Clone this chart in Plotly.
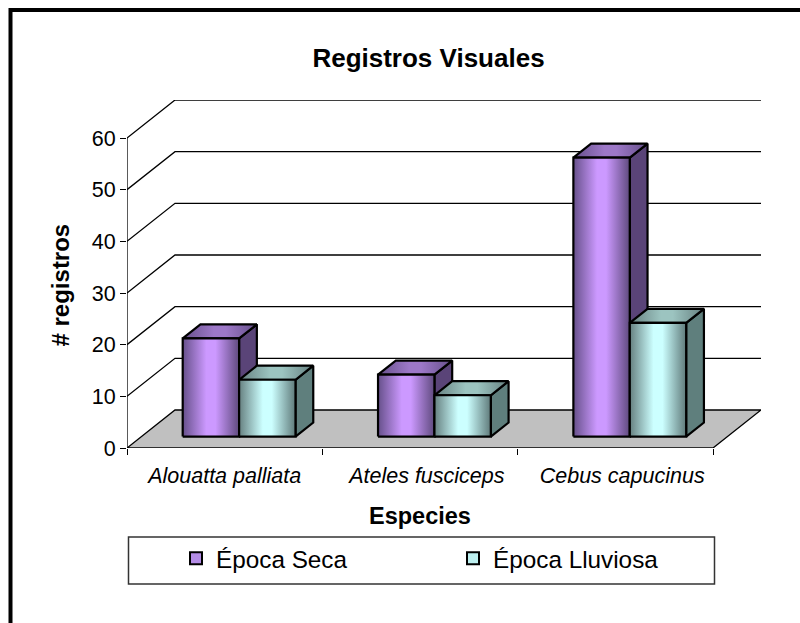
import plotly.graph_objects as go

categories = ["Alouatta palliata", "Ateles fusciceps", "Cebus capucinus"]
epoca_seca = [19, 12, 54]
epoca_lluviosa = [11, 8, 22]
y_ticks = [0, 10, 20, 30, 40, 50, 60]
category_label_positions = [0.5, 1.535, 2.535]
series_names = ["Época Seca", "Época Lluviosa"]

W, H = 800, 623
MARGIN_B = 30
PLOT_H = H - MARGIN_B
PX_LEFT, PX_RIGHT, PX_FLOOR = 127.0, 713.0, 448.0
PX_PER_CAT = (PX_RIGHT - PX_LEFT) / 3
PX_PER_UNIT = 310.0 / 60
DEPTH_X = 48.0 / PX_PER_CAT       # wall depth, in category units
DEPTH_Y = 38.0 / PX_PER_UNIT      # wall depth, in value units
GAP = 41.3 / PX_PER_CAT
BAR_W = 56.4 / PX_PER_CAT
D0, D1 = 0.30, 0.67               # depth slice occupied by the bars

X_MAX = 3 + DEPTH_X
Y_MAX = 60 + DEPTH_Y


def py(px):
    """Paper fraction for a pixel row counted from the top of the page."""
    return 1 - px / PLOT_H


def proj(x, y, d):
    return x + d * DEPTH_X, y + d * DEPTH_Y


def poly(points, fill=None, gradient=None, closed=True, width=2.2):
    pts = [proj(*p) for p in points]
    if closed:
        pts.append(pts[0])
    kw = dict(
        x=[p[0] for p in pts], y=[p[1] for p in pts], mode="lines",
        line=dict(color="black", width=width), showlegend=False, hoverinfo="skip",
    )
    if fill is not None:
        kw.update(fill="toself", fillcolor=fill)
    if gradient is not None:
        kw.update(fill="toself", fillgradient=dict(type="horizontal", colorscale=gradient))
    return go.Scatter(**kw)


def plateau(edge_l, mid, edge_r):
    return [[0, edge_l], [0.42, mid], [0.58, mid], [1, edge_r]]


STYLES = [
    dict(front=plateau("#66508a", "#cc99ff", "#5f4a7e"),
         top=plateau("#66508a", "#9d78c8", "#66508a"),
         side="#5a4478", swatch="#b48ce6"),
    dict(front=plateau("#668080", "#ccffff", "#5f7a7a"),
         top=plateau("#668080", "#9cc4c0", "#668080"),
         side="#5f7f7d", swatch="#bdf0f0"),
]

fig = go.Figure()

# walls: grid lines on the back and left walls
for v in y_ticks[1:]:
    fig.add_trace(poly([(0, v, 0), (0, v, 1), (3, v, 1)], closed=False, width=1.3))

# floor
fig.add_trace(poly([(0, 0, 0), (3, 0, 0), (3, 0, 1), (0, 0, 1)], fill="#c0c0c0", width=1.3))
# value axis line
fig.add_trace(poly([(0, 0, 0), (0, 60, 0)], closed=False, width=1.3))

# bars
for i in range(len(categories)):
    for s, values in enumerate([epoca_seca, epoca_lluviosa]):
        v = values[i]
        st = STYLES[s]
        x0 = i + GAP + s * BAR_W
        x1 = x0 + BAR_W
        fig.add_trace(poly([(x1, 0, D0), (x1, 0, D1), (x1, v, D1), (x1, v, D0)], fill=st["side"]))
        fig.add_trace(poly([(x0, v, D0), (x1, v, D0), (x1, v, D1), (x0, v, D1)], gradient=st["top"]))
        fig.add_trace(poly([(x0, 0, D0), (x1, 0, D0), (x1, v, D0), (x0, v, D0)], gradient=st["front"]))

# legend entries
for s, name in enumerate(series_names):
    fig.add_trace(go.Scatter(
        x=[None], y=[None], mode="markers", name=name,
        marker=dict(symbol="square", size=13.5, color=STYLES[s]["swatch"],
                    line=dict(color="black", width=1.6)),
    ))

x_dom = [PX_LEFT / W, (PX_LEFT + X_MAX * PX_PER_CAT) / W]
y_dom = [py(PX_FLOOR), py(PX_FLOOR - Y_MAX * PX_PER_UNIT)]

FONT = "Liberation Sans, Arial, sans-serif"
fig.update_layout(
    width=W, height=H, autosize=False,
    margin=dict(l=0, r=0, t=0, b=MARGIN_B),
    paper_bgcolor="white", plot_bgcolor="rgba(0,0,0,0)",
    font=dict(family=FONT, color="black", size=21),
    title=dict(text="<b>Registros Visuales</b>", x=428.5 / W, xanchor="center",
               y=1 - 58 / H, yanchor="middle", font=dict(size=26)),
    xaxis=dict(
        domain=x_dom, range=[0, X_MAX], showgrid=False, zeroline=False, showline=False,
        tickmode="array", tickvals=category_label_positions,
        ticktext=[f"<i>{c}</i>" for c in categories],
        ticks="outside", ticklen=0, ticklabelstandoff=8, tickfont=dict(size=21.5),
        minor=dict(tickmode="array", tickvals=[0, 1, 2, 3], ticks="outside", ticklen=6,
                   tickcolor="black", tickwidth=1, showgrid=False),
    ),
    yaxis=dict(
        domain=y_dom, range=[0, Y_MAX], showgrid=False, zeroline=False, showline=False,
        tickmode="array", tickvals=y_ticks, ticks="outside", ticklen=6, tickcolor="black",
        tickwidth=1, tickfont=dict(size=21.5),
    ),
    legend=dict(
        orientation="h",
        x=176 / W, xanchor="left", y=py(558.5), yanchor="middle",
        bgcolor="rgba(0,0,0,0)", borderwidth=0,
        font=dict(size=24.3), entrywidth=232, entrywidthmode="pixels", itemsizing="constant",
    ),
    annotations=[
        dict(text="<b>Especies</b>", x=420 / W, y=py(516), xref="paper", yref="paper",
             showarrow=False, font=dict(size=23.5), xanchor="center", yanchor="middle"),
        dict(text="<b># registros</b>", x=60 / W, y=py(285.5), xref="paper", yref="paper",
             showarrow=False, font=dict(size=24), textangle=-90, xanchor="center", yanchor="middle"),
    ],
    shapes=[
        dict(type="rect", xref="paper", yref="paper", x0=10.5 / W, x1=830 / W,
             y0=py(10), y1=py(660), line=dict(color="black", width=4), layer="below"),
        dict(type="rect", xref="paper", yref="paper", x0=128.5 / W, x1=714.5 / W,
             y0=py(537), y1=py(584), line=dict(color="#333333", width=1.5), layer="below"),
    ],
)

fig.write_html("out.html", config=dict(displayModeBar=False),
               post_script="document.body.style.margin='0';document.body.style.overflow='hidden';")
